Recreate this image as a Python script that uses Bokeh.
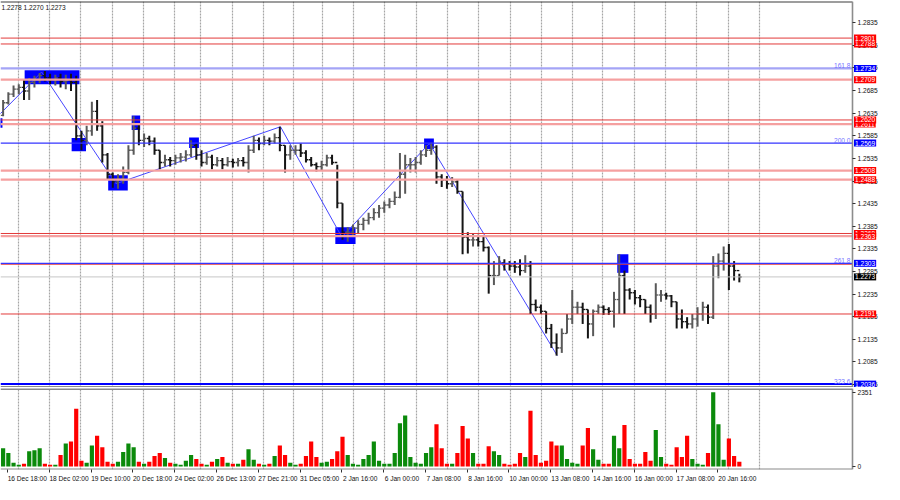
from bokeh.plotting import figure
from bokeh.models import Range1d, FixedTicker, Label, Grid, ColumnDataSource, PrintfTickFormatter, LinearAxis
from bokeh.layouts import column
from bokeh.embed import file_html
from bokeh.resources import INLINE

# ---------------- data (4-hour groups of H1 bars) ----------------
first_open = 1.2630
hi = [1.2664, 1.2681, 1.2696, 1.2699, 1.2709, 1.2713, 1.2718, 1.2724, 1.2728, 1.2722,
      1.2720, 1.2722, 1.2720, 1.2722, 1.2718, 1.2596, 1.2607, 1.2660, 1.2664, 1.2617,
      1.2547, 1.2504, 1.2500, 1.2517, 1.2564, 1.2628, 1.2611, 1.2590, 1.2585, 1.2581,
      1.2553, 1.2543, 1.2538, 1.2543, 1.2547, 1.2553, 1.2575, 1.2568, 1.2553, 1.2547,
      1.2543, 1.2538, 1.2536, 1.2538, 1.2534, 1.2536, 1.2538, 1.2564, 1.2585, 1.2581,
      1.2585, 1.2581, 1.2590, 1.2605, 1.2564, 1.2564, 1.2564, 1.2568, 1.2553, 1.2538,
      1.2526, 1.2530, 1.2543, 1.2543, 1.2521, 1.2436, 1.2383, 1.2389, 1.2398, 1.2404,
      1.2415, 1.2425, 1.2432, 1.2440, 1.2447, 1.2462, 1.2547, 1.2543, 1.2536, 1.2538,
      1.2553, 1.2564, 1.2570, 1.2564, 1.2500, 1.2496, 1.2494, 1.2489, 1.2462, 1.2372,
      1.2368, 1.2366, 1.2361, 1.2340, 1.2308, 1.2319, 1.2312, 1.2308, 1.2308, 1.2312,
      1.2321, 1.2308, 1.2223, 1.2212, 1.2197, 1.2169, 1.2148, 1.2159, 1.2191, 1.2244,
      1.2218, 1.2216, 1.2201, 1.2201, 1.2212, 1.2210, 1.2206, 1.2240, 1.2323, 1.2287,
      1.2248, 1.2244, 1.2233, 1.2223, 1.2212, 1.2259, 1.2244, 1.2238, 1.2233, 1.2218,
      1.2201, 1.2184, 1.2191, 1.2206, 1.2218, 1.2212, 1.2319, 1.2325, 1.2340, 1.2346,
      1.2308, 1.2280]
lo = [1.2628, 1.2654, 1.2671, 1.2677, 1.2664, 1.2664, 1.2692, 1.2701, 1.2705, 1.2699,
      1.2696, 1.2692, 1.2688, 1.2684, 1.2575, 1.2553, 1.2564, 1.2585, 1.2596, 1.2526,
      1.2489, 1.2470, 1.2468, 1.2479, 1.2500, 1.2543, 1.2564, 1.2560, 1.2564, 1.2543,
      1.2511, 1.2517, 1.2517, 1.2521, 1.2526, 1.2528, 1.2538, 1.2532, 1.2517, 1.2521,
      1.2511, 1.2517, 1.2511, 1.2517, 1.2515, 1.2517, 1.2517, 1.2504, 1.2547, 1.2553,
      1.2564, 1.2564, 1.2568, 1.2551, 1.2504, 1.2532, 1.2543, 1.2538, 1.2526, 1.2517,
      1.2506, 1.2509, 1.2517, 1.2521, 1.2425, 1.2355, 1.2351, 1.2361, 1.2368, 1.2376,
      1.2389, 1.2398, 1.2404, 1.2415, 1.2425, 1.2432, 1.2447, 1.2457, 1.2504, 1.2504,
      1.2521, 1.2538, 1.2543, 1.2479, 1.2472, 1.2468, 1.2472, 1.2457, 1.2323, 1.2325,
      1.2340, 1.2340, 1.2329, 1.2236, 1.2255, 1.2276, 1.2287, 1.2287, 1.2282, 1.2276,
      1.2282, 1.2191, 1.2197, 1.2191, 1.2148, 1.2116, 1.2099, 1.2105, 1.2148, 1.2169,
      1.2191, 1.2169, 1.2137, 1.2142, 1.2191, 1.2189, 1.2189, 1.2161, 1.2191, 1.2191,
      1.2223, 1.2212, 1.2206, 1.2191, 1.2172, 1.2180, 1.2218, 1.2223, 1.2206, 1.2159,
      1.2159, 1.2159, 1.2159, 1.2163, 1.2176, 1.2169, 1.2180, 1.2270, 1.2287, 1.2244,
      1.2265, 1.2261]
cl = [1.2658, 1.2677, 1.2688, 1.2692, 1.2684, 1.2703, 1.2709, 1.2718, 1.2713, 1.2709,
      1.2713, 1.2705, 1.2707, 1.2703, 1.2585, 1.2575, 1.2596, 1.2639, 1.2607, 1.2543,
      1.2500, 1.2483, 1.2489, 1.2504, 1.2553, 1.2602, 1.2575, 1.2579, 1.2573, 1.2553,
      1.2526, 1.2532, 1.2530, 1.2536, 1.2538, 1.2543, 1.2564, 1.2543, 1.2526, 1.2538,
      1.2521, 1.2530, 1.2521, 1.2528, 1.2526, 1.2530, 1.2526, 1.2553, 1.2575, 1.2568,
      1.2575, 1.2573, 1.2581, 1.2564, 1.2543, 1.2553, 1.2553, 1.2547, 1.2532, 1.2521,
      1.2517, 1.2521, 1.2536, 1.2526, 1.2436, 1.2372, 1.2372, 1.2381, 1.2389, 1.2398,
      1.2404, 1.2415, 1.2425, 1.2432, 1.2440, 1.2449, 1.2500, 1.2521, 1.2521, 1.2526,
      1.2543, 1.2553, 1.2560, 1.2494, 1.2487, 1.2479, 1.2483, 1.2462, 1.2361, 1.2355,
      1.2355, 1.2351, 1.2338, 1.2276, 1.2276, 1.2304, 1.2302, 1.2297, 1.2295, 1.2287,
      1.2297, 1.2212, 1.2206, 1.2197, 1.2159, 1.2127, 1.2116, 1.2148, 1.2180, 1.2206,
      1.2206, 1.2201, 1.2169, 1.2197, 1.2206, 1.2201, 1.2197, 1.2223, 1.2276, 1.2244,
      1.2238, 1.2227, 1.2223, 1.2206, 1.2191, 1.2233, 1.2233, 1.2231, 1.2218, 1.2180,
      1.2174, 1.2169, 1.2180, 1.2191, 1.2206, 1.2184, 1.2297, 1.2308, 1.2325, 1.2297,
      1.2287, 1.2273]
vol = [580, 427, 122, 61, 92, 488, 519, 580, 92, 61,
       61, 366, 732, 793, 1830, 183, 122, 671, 976, 610,
       153, 92, 153, 458, 732, 610, 153, 92, 153, 336,
       427, 275, 122, 92, 61, 183, 366, 244, 92, 61,
       153, 244, 305, 122, 92, 92, 214, 549, 214, 92,
       61, 92, 336, 671, 366, 122, 61, 92, 336, 793,
       305, 122, 153, 244, 488, 946, 366, 92, 61, 244,
       366, 793, 183, 92, 92, 427, 1373, 1617, 305, 122,
       92, 427, 610, 1342, 580, 92, 92, 427, 1281, 885,
       427, 92, 92, 641, 488, 366, 92, 61, 92, 427,
       305, 1769, 366, 122, 183, 793, 671, 671, 244, 122,
       92, 671, 1220, 549, 214, 92, 92, 976, 580, 1312,
       244, 92, 92, 458, 183, 1159, 305, 92, 61, 610,
       305, 976, 244, 92, 61, 427, 2351, 1342, 214, 885,
       336, 153]

# zigzag (bar index, price)
zz_bar = [-3, 31, 88, 214, 261, 328, 426]
zz_price = [1.2627, 1.2726, 1.2479, 1.2605, 1.2361, 1.2568, 1.2099]

# blue marker rectangles (bar index span, price span)
box_left = [-4, 18, 54, 82, 100, 144, 256, 324, 472]
box_right = [1, 60, 65, 97, 106.5, 151.5, 271.5, 331.5, 480.5]
box_top = [1.2624, 1.2730, 1.2580, 1.2498, 1.2630, 1.2581, 1.2383, 1.2579, 1.2323]
box_bottom = [1.2603, 1.2699, 1.2551, 1.2464, 1.2598, 1.2558, 1.2346, 1.2556, 1.2282]

# horizontal levels
lvl_price = [1.2801, 1.2788, 1.2734, 1.2709, 1.2620, 1.2611, 1.2569, 1.2508, 1.2488,
             1.2369, 1.2363, 1.2301, 1.2303, 1.2273, 1.2191, 1.2036]
lvl_kind = ["red", "red", "fib", "pink", "red", "pink", "blue", "pink", "pink",
            "red", "pink", "red", "blue", "bid", "red", "blue2"]

# price tags on the axis (drawing order)
tag_price = [1.2788, 1.2801, 1.2734, 1.2709, 1.2611, 1.2620, 1.2569, 1.2508, 1.2488,
             1.2369, 1.2363, 1.2303, 1.2273, 1.2191, 1.2036]
tag_kind = ["red", "red", "blue", "red", "red", "red", "blue", "red", "red",
            "red", "red", "blue", "black", "red", "blue"]

fib_text = ["161.8", "200.0", "261.8", "323.6"]
fib_price = [1.2734, 1.2569, 1.2303, 1.2036]

price_ticks = [1.2035, 1.2085, 1.2135, 1.2185, 1.2235, 1.2285, 1.2335, 1.2385, 1.2435,
               1.2485, 1.2535, 1.2585, 1.2635, 1.2685, 1.2735, 1.2785, 1.2835]
vol_ticks = [0, 2351]

date_labels = ["16 Dec 18:00", "18 Dec 02:00", "19 Dec 10:00", "20 Dec 18:00", "24 Dec 02:00",
               "26 Dec 13:00", "27 Dec 21:00", "31 Dec 05:00", "2 Jan 16:00", "6 Jan 00:00",
               "7 Jan 08:00", "8 Jan 16:00", "10 Jan 00:00", "13 Jan 08:00", "14 Jan 16:00",
               "16 Jan 00:00", "17 Jan 08:00", "20 Jan 16:00"]
date_bars = [5, 37, 69, 101, 133, 165, 197, 229, 261, 293, 325, 357, 389, 421, 453, 485, 517, 549]
grid_bars = [13, 37, 61, 85, 109, 133, 153, 177, 201, 224, 246, 270, 294, 318, 342, 366,
             390, 414, 438, 461, 485, 509, 533, 557, 581]

header_text = "1.2278 1.2270 1.2273"

# ---------------- styles / geometry ----------------
FONT = "Liberation Sans"
FS = "6.6px"
BPC = 4                 # H1 bars per drawn group
FRAME_W = 882           # whole width, price scale included
AXIS_PX = 852           # where the price scale sits
X0, X1 = -0.5, 652.2    # bar range of the chart area (left edge .. price scale)
XEND = X0 + (X1 - X0) * FRAME_W / AXIS_PX
PY0, PY1 = 1.20285, 1.28819
VY0, VY1 = -92, 2470

LVL_STYLE = {"red": ("#e23a3a", 1.0), "pink": ("#f5a0a0", 2.2), "fib": ("#a4a4f6", 2.2),
             "blue": ("#3535ff", 1.2), "blue2": ("#0000ff", 2.0), "bid": ("#c6c6c6", 1.0)}
TAG_COLOR = {"red": "#ff0000", "blue": "#0000ff", "black": "#000000"}

xs = [BPC * k + 1.5 for k in range(len(cl))]
opens = [first_open] + cl[:-1]
up = [c >= o for c, o in zip(cl, opens)]
src = ColumnDataSource(dict(
    x=xs, xl=[x - 1.8 for x in xs], xr=[x + 1.8 for x in xs],
    hi=hi, lo=lo, op=opens, cl=cl, vol=vol,
    bc=["#595959" if u else "#151515" for u in up],
    vc=["#0b8a0b" if u else "#ff0000" for u in up],
))


def add_scale(fig, ticks, fmt=None):
    ax = LinearAxis(fixed_location=X1, ticker=FixedTicker(ticks=ticks))
    if fmt is not None:
        ax.formatter = fmt
    ax.major_label_text_font = FONT
    ax.major_label_text_font_size = FS
    ax.major_label_text_color = "#111111"
    ax.major_tick_out = 3
    ax.major_tick_in = 0
    ax.minor_tick_out = 0
    ax.minor_tick_in = 0
    ax.major_tick_line_color = "#333333"
    ax.axis_line_color = "#8c8c8c"
    ax.axis_line_width = 1.6
    ax.major_label_standoff = 2
    fig.add_layout(ax, "right")


def add_vgrid(fig):
    fig.add_layout(Grid(dimension=0, ticker=FixedTicker(ticks=grid_bars),
                        grid_line_color="#a6a6a6", grid_line_dash="2 1", grid_line_width=1.2))


# ---------------- price pane ----------------
p = figure(frame_width=FRAME_W, frame_height=386, x_range=Range1d(X0, XEND),
           y_range=Range1d(PY0, PY1), x_axis_location=None, y_axis_location=None,
           toolbar_location=None, output_backend="svg", min_border_left=0, min_border_top=1,
           min_border_bottom=0, min_border_right=0, background_fill_color="white",
           border_fill_color="white", outline_line_color=None)
p.grid.visible = False
add_vgrid(p)
# pane borders
p.segment(x0=[X0, X0], x1=[X1, X1], y0=[PY1, PY0], y1=[PY1, PY0],
          line_color=["#3c3c3c", "#8a8a8a"], line_width=[2, 3])

p.quad(left=box_left, right=box_right, top=box_top, bottom=box_bottom,
       fill_color="#0000ff", line_color=None)
p.line(zz_bar, zz_price, line_color="#4646ff", line_width=1)

p.segment(x0="x", y0="lo", x1="x", y1="hi", line_color="bc", line_width=2.0, source=src)
p.segment(x0="xl", y0="op", x1="x", y1="op", line_color="bc", line_width=1.3, source=src)
p.segment(x0="x", y0="cl", x1="xr", y1="cl", line_color="bc", line_width=1.3, source=src)

for lv, kind in zip(lvl_price, lvl_kind):
    c, w = LVL_STYLE[kind]
    p.segment(x0=[X0], x1=[X1], y0=[lv], y1=[lv], line_color=c, line_width=w)

add_scale(p, price_ticks, PrintfTickFormatter(format="%.4f"))

for t, lv in zip(fib_text, fib_price):
    p.add_layout(Label(x=X1, y=lv, text=t, text_align="right", text_baseline="bottom",
                       x_offset=-2, text_font=FONT, text_font_size=FS, text_color="#7575ff"))

for lv, kind in zip(tag_price, tag_kind):
    p.add_layout(Label(x=X1, y=lv, text="%.4f" % lv, text_align="left", text_baseline="middle",
                       x_offset=1.5, text_font=FONT, text_font_size=FS, text_color="white",
                       background_fill_color=TAG_COLOR[kind], padding=1))

p.add_layout(Label(x=X0, y=PY1, text=header_text, text_align="left", text_baseline="top",
                   x_offset=1, y_offset=-2, text_font=FONT, text_font_size=FS,
                   text_color="#111111"))

# ---------------- volume pane ----------------
pv = figure(frame_width=FRAME_W, frame_height=81, x_range=p.x_range, y_range=Range1d(VY0, VY1),
            x_axis_location="below", y_axis_location=None, toolbar_location=None,
            output_backend="svg", min_border_left=0, min_border_top=1, min_border_bottom=14,
            min_border_right=0, background_fill_color="white", border_fill_color="white",
            outline_line_color=None)
pv.grid.visible = False
add_vgrid(pv)
pv.segment(x0=[X0, X0], x1=[X1, X1], y0=[VY1, VY0], y1=[VY1, VY0],
           line_color=["#8a8a8a", "#8a8a8a"], line_width=[3, 2])

pv.vbar(x="x", top="vol", bottom=0, width=BPC * 0.8, fill_color="vc", line_color=None, source=src)
add_scale(pv, vol_ticks)

label_ticks = [b + round(len(s) * 1.25) for b, s in zip(date_bars, date_labels)]
xa = pv.xaxis[0]
xa.ticker = FixedTicker(ticks=label_ticks, minor_ticks=date_bars)
xa.major_label_overrides = {t: s for t, s in zip(label_ticks, date_labels)}
xa.major_tick_out = 0
xa.major_tick_in = 0
xa.minor_tick_out = 3
xa.minor_tick_in = 0
xa.minor_tick_line_color = "#333333"
xa.axis_line_color = None
xa.major_label_standoff = 2
xa.major_label_text_font = FONT
xa.major_label_text_font_size = FS
xa.major_label_text_color = "#111111"

layout = column(p, pv)
open("out.html", "w").write(file_html(layout, INLINE))
